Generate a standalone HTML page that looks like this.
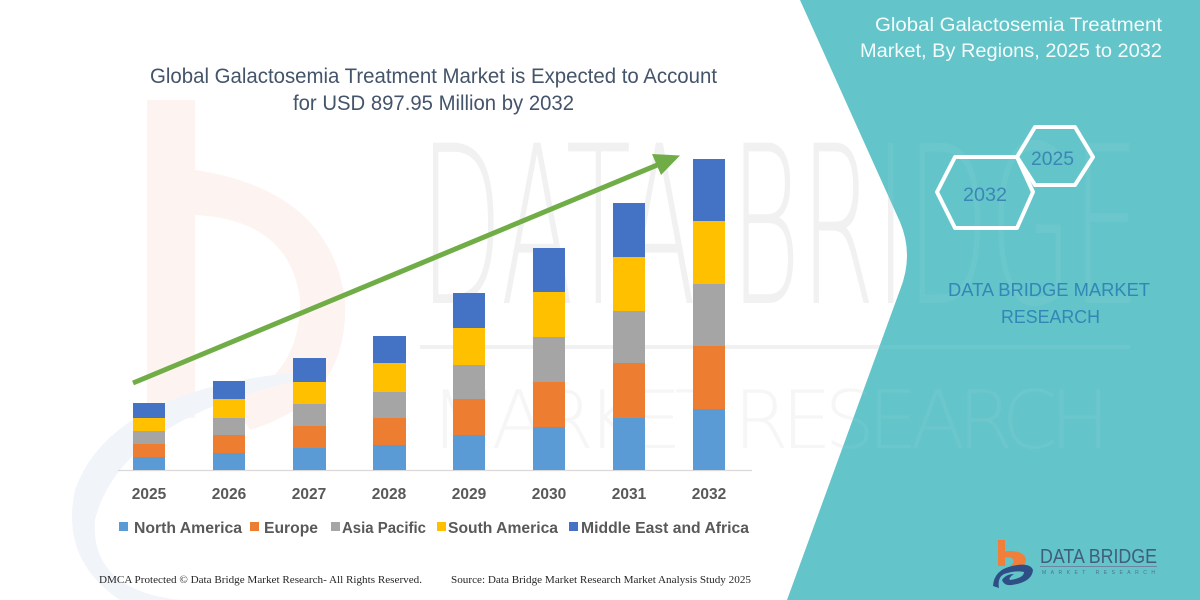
<!DOCTYPE html>
<html><head><meta charset="utf-8"><style>
html,body{margin:0;padding:0;background:#fff;}
svg{display:block;}
</style></head><body>
<svg width="1200" height="600" viewBox="0 0 1200 600" xmlns="http://www.w3.org/2000/svg">
<defs>
<clipPath id="tealclip"><path d="M800,0 H1200 V600 H787 L900,290 Q914,255 900,222 Z"/></clipPath>
</defs>
<rect width="1200" height="600" fill="#ffffff"/>
<!-- faint watermark on white -->
<g>
  <rect x="147" y="100" width="48" height="318" fill="#fdf4f1"/>
  <path d="M195,170 Q330,190 345,300 Q350,400 250,430 L230,400 Q300,380 300,300 Q290,220 195,215 Z" fill="#fdf4f1"/>
  <path d="M300,380 Q120,420 95,520 Q90,590 180,600 L120,600 Q60,560 75,490 Q110,390 300,372 Z" fill="#f1f4f8"/>
  <text x="420" y="303" font-family="DejaVu Sans, Liberation Sans, sans-serif" font-weight="200" font-size="220" fill="#f1f1f1" textLength="720" lengthAdjust="spacingAndGlyphs">DATA BRIDGE</text>
  <rect x="420" y="345" width="710" height="4" fill="#f1f1f1"/>
  <text x="430" y="448" font-family="DejaVu Sans, Liberation Sans, sans-serif" font-weight="200" font-size="80" fill="#f6f6f6" textLength="680" lengthAdjust="spacing">MARKET RESEARCH</text>
</g>
<!-- teal panel -->
<path d="M800,0 H1200 V600 H787 L900,290 Q914,255 900,222 Z" fill="#63c4c9"/>
<g clip-path="url(#tealclip)" opacity="0.05">
  <text x="420" y="303" font-family="DejaVu Sans, Liberation Sans, sans-serif" font-weight="200" font-size="220" fill="#ffffff" textLength="720" lengthAdjust="spacingAndGlyphs">DATA BRIDGE</text>
  <rect x="420" y="345" width="710" height="4" fill="#ffffff"/>
  <text x="430" y="448" font-family="DejaVu Sans, Liberation Sans, sans-serif" font-weight="200" font-size="80" fill="#ffffff" textLength="680" lengthAdjust="spacing">MARKET RESEARCH</text>
</g>

<!-- main title -->
<g font-family="Liberation Sans, sans-serif" font-size="21" fill="#44546a">
  <text x="150" y="83" textLength="567" lengthAdjust="spacingAndGlyphs">Global Galactosemia Treatment Market is Expected to Account</text>
  <text x="293" y="110" textLength="281" lengthAdjust="spacingAndGlyphs">for USD 897.95 Million by 2032</text>
</g>

<!-- axis line -->
<line x1="118" y1="470.5" x2="752" y2="470.5" stroke="#d9d9d9" stroke-width="1.2"/>

<!-- bars -->
<g>
  <rect x="133" y="403" width="32" height="15" fill="#4472C4"/>
  <rect x="133" y="418" width="32" height="13" fill="#FFC000"/>
  <rect x="133" y="431" width="32" height="13" fill="#A5A5A5"/>
  <rect x="133" y="444" width="32" height="13" fill="#ED7D31"/>
  <rect x="133" y="457" width="32" height="13" fill="#5B9BD5"/>
  <rect x="213" y="381" width="32" height="18" fill="#4472C4"/>
  <rect x="213" y="399" width="32" height="19" fill="#FFC000"/>
  <rect x="213" y="418" width="32" height="17" fill="#A5A5A5"/>
  <rect x="213" y="435" width="32" height="18" fill="#ED7D31"/>
  <rect x="213" y="453" width="32" height="17" fill="#5B9BD5"/>
  <rect x="293" y="358" width="33" height="24" fill="#4472C4"/>
  <rect x="293" y="382" width="33" height="22" fill="#FFC000"/>
  <rect x="293" y="404" width="33" height="22" fill="#A5A5A5"/>
  <rect x="293" y="426" width="33" height="22" fill="#ED7D31"/>
  <rect x="293" y="448" width="33" height="22" fill="#5B9BD5"/>
  <rect x="373" y="336" width="33" height="27" fill="#4472C4"/>
  <rect x="373" y="363" width="33" height="29" fill="#FFC000"/>
  <rect x="373" y="392" width="33" height="26" fill="#A5A5A5"/>
  <rect x="373" y="418" width="33" height="27" fill="#ED7D31"/>
  <rect x="373" y="445" width="33" height="25" fill="#5B9BD5"/>
  <rect x="453" y="293" width="32" height="35" fill="#4472C4"/>
  <rect x="453" y="328" width="32" height="37" fill="#FFC000"/>
  <rect x="453" y="365" width="32" height="34" fill="#A5A5A5"/>
  <rect x="453" y="399" width="32" height="36" fill="#ED7D31"/>
  <rect x="453" y="435" width="32" height="35" fill="#5B9BD5"/>
  <rect x="533" y="248" width="32" height="44" fill="#4472C4"/>
  <rect x="533" y="292" width="32" height="45" fill="#FFC000"/>
  <rect x="533" y="337" width="32" height="45" fill="#A5A5A5"/>
  <rect x="533" y="382" width="32" height="45" fill="#ED7D31"/>
  <rect x="533" y="427" width="32" height="43" fill="#5B9BD5"/>
  <rect x="613" y="203" width="32" height="54" fill="#4472C4"/>
  <rect x="613" y="257" width="32" height="54" fill="#FFC000"/>
  <rect x="613" y="311" width="32" height="52" fill="#A5A5A5"/>
  <rect x="613" y="363" width="32" height="55" fill="#ED7D31"/>
  <rect x="613" y="418" width="32" height="52" fill="#5B9BD5"/>
  <rect x="693" y="159" width="32" height="62" fill="#4472C4"/>
  <rect x="693" y="221" width="32" height="63" fill="#FFC000"/>
  <rect x="693" y="284" width="32" height="62" fill="#A5A5A5"/>
  <rect x="693" y="346" width="32" height="63" fill="#ED7D31"/>
  <rect x="693" y="409" width="32" height="61" fill="#5B9BD5"/>
</g>

<!-- arrow -->
<line x1="133" y1="383" x2="658" y2="164.7" stroke="#70AD47" stroke-width="5"/>
<polygon points="680,155.5 661,175 652,154" fill="#70AD47"/>

<!-- year labels -->
<g font-family="Liberation Sans, sans-serif" font-weight="bold" font-size="15.5" fill="#595959" text-anchor="middle">
  <text x="149" y="499">2025</text>
  <text x="229" y="499">2026</text>
  <text x="309" y="499">2027</text>
  <text x="389" y="499">2028</text>
  <text x="469" y="499">2029</text>
  <text x="549" y="499">2030</text>
  <text x="629" y="499">2031</text>
  <text x="709" y="499">2032</text>
</g>

<!-- legend -->
<g font-family="Liberation Sans, sans-serif" font-weight="bold" font-size="15.5" fill="#595959">
  <rect x="119" y="522" width="9" height="9" fill="#5B9BD5"/>
  <text x="134" y="533" textLength="108" lengthAdjust="spacingAndGlyphs">North America</text>
  <rect x="250" y="522" width="9" height="9" fill="#ED7D31"/>
  <text x="264" y="533" textLength="54" lengthAdjust="spacingAndGlyphs">Europe</text>
  <rect x="331" y="522" width="9" height="9" fill="#A5A5A5"/>
  <text x="342" y="533" textLength="84" lengthAdjust="spacingAndGlyphs">Asia Pacific</text>
  <rect x="437" y="522" width="9" height="9" fill="#FFC000"/>
  <text x="448" y="533" textLength="110" lengthAdjust="spacingAndGlyphs">South America</text>
  <rect x="569" y="522" width="9" height="9" fill="#4472C4"/>
  <text x="581" y="533" textLength="168" lengthAdjust="spacingAndGlyphs">Middle East and Africa</text>
</g>

<!-- footer -->
<g font-family="Liberation Serif, serif" font-size="11" fill="#262626">
  <text x="99" y="583" textLength="323" lengthAdjust="spacingAndGlyphs">DMCA Protected © Data Bridge Market Research-  All Rights Reserved.</text>
  <text x="451" y="583" textLength="300" lengthAdjust="spacingAndGlyphs">Source: Data Bridge Market Research  Market Analysis Study 2025</text>
</g>

<!-- right panel title -->
<g font-family="Liberation Sans, sans-serif" font-size="19" fill="#f4fbfb">
  <text x="875" y="31" textLength="287" lengthAdjust="spacingAndGlyphs">Global Galactosemia Treatment</text>
  <text x="860" y="57" textLength="302" lengthAdjust="spacingAndGlyphs">Market, By Regions, 2025 to 2032</text>
</g>

<!-- hexagons -->
<g fill="none" stroke="#ffffff" stroke-width="4" stroke-linejoin="round">
  <polygon points="937,192 955,157 1017,157 1033,192 1017,228 955,228"/>
  <polygon points="1017,157 1035,127 1075,127 1093,157 1075,185 1035,185"/>
</g>
<g font-family="Liberation Sans, sans-serif" font-size="19" fill="#3a87b5">
  <text x="963" y="201" textLength="44" lengthAdjust="spacingAndGlyphs">2032</text>
  <text x="1031" y="165" textLength="43" lengthAdjust="spacingAndGlyphs">2025</text>
</g>

<!-- DATA BRIDGE MARKET RESEARCH -->
<g font-family="Liberation Sans, sans-serif" font-size="18" fill="#3287b6">
  <text x="948" y="296" textLength="202" lengthAdjust="spacingAndGlyphs">DATA BRIDGE MARKET</text>
  <text x="1001" y="323" textLength="99" lengthAdjust="spacingAndGlyphs">RESEARCH</text>
</g>

<!-- logo -->
<g>
  <rect x="998" y="540" width="7" height="26" fill="#f07f3c"/>
  <path d="M998,552 Q1024,548 1026,560 Q1026,566 1018,568 L1010,566 Q1016,562 1012,558 Q1006,556 1000,560 Z" fill="#f07f3c"/>
  <path d="M993,586 Q994,570 1012,566 Q1030,562 1033,570 Q1032,582 1012,585 Q1004,586 1002,580 Q1006,574 1014,574 Q1008,578 1010,580 Q1024,578 1024,572 Q1016,570 1004,574 Q997,578 999,588 Z" fill="#2e4f86"/>
  <text x="1040" y="563" font-family="Liberation Sans, sans-serif" font-size="20" fill="#415d7e" textLength="117" lengthAdjust="spacingAndGlyphs">DATA BRIDGE</text>
  <rect x="1040" y="566" width="117" height="1" fill="#6a86a0"/>
  <text x="1042" y="574" font-family="Liberation Sans, sans-serif" font-size="5" fill="#50708f" textLength="113" lengthAdjust="spacing">MARKET     RESEARCH</text>
</g>
</svg>
</body></html>
